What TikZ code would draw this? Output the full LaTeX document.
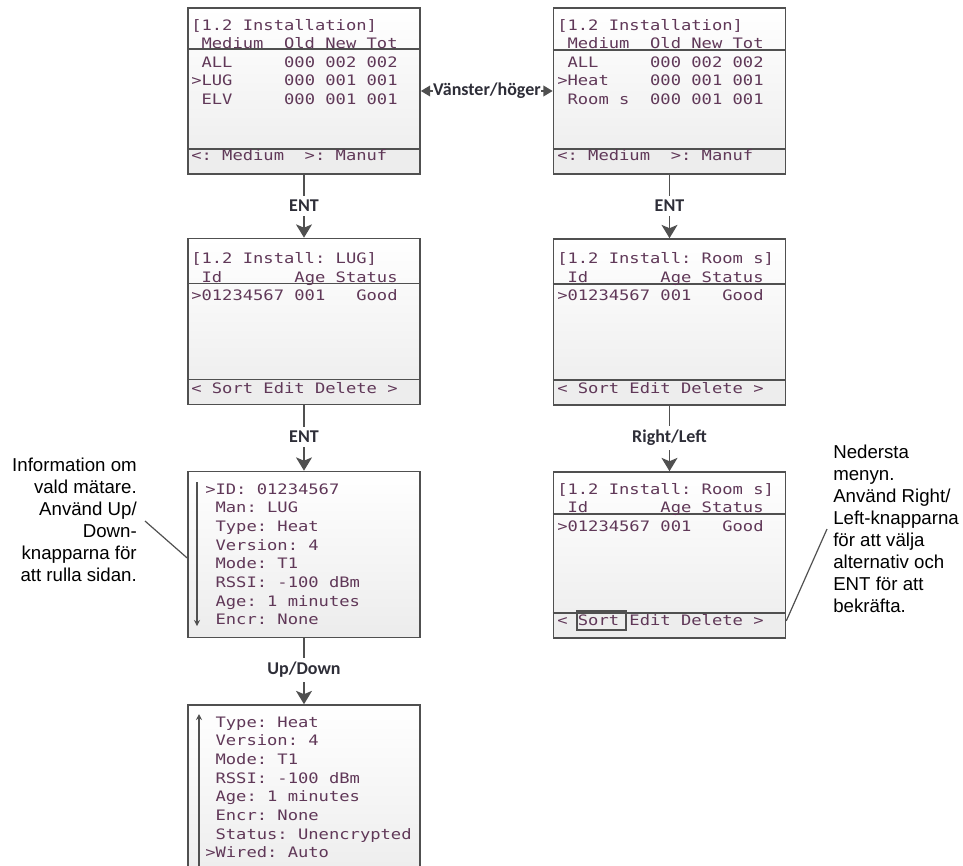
\documentclass[tikz,border=0pt]{standalone}
\usepackage{fontspec}
\setmainfont{Liberation Sans}
\newfontfamily\lcdfont[FakeStretch=1.19]{DejaVu Sans Mono}
\newfontfamily\lblfont{Carlito}
\usetikzlibrary{arrows.meta,calc}
\definecolor{framec}{HTML}{505050}
\definecolor{lcdc}{HTML}{603858}
\definecolor{lblc}{HTML}{2E2E38}
\definecolor{boxbot}{HTML}{ECECEC}
\definecolor{footc}{HTML}{EDEDED}
\tikzset{
  screen/.style={draw=framec, line width=1.2pt, rectangle, inner sep=0pt, minimum width=174pt, minimum height=124.5pt, top color=white, bottom color=boxbot},
  sepline/.style={draw=framec, line width=1.1pt},
  lcd/.style={anchor=base west, inner sep=0pt, font=\lcdfont\fontsize{10.8pt}{13pt}\selectfont, text=lcdc},
  lab/.style={font=\lblfont\bfseries\fontsize{13.5pt}{16pt}\selectfont, text=lblc, inner sep=3pt},
  conn/.style={draw=framec, line width=1.2pt},
  arr/.style={conn, -{Stealth[width=12pt,length=10pt,inset=2.5pt]}},
  harr/.style={conn, -{Triangle[width=8pt,length=7pt]}},
  scrollarr/.style={draw=framec, line width=0.8pt, -{Stealth[width=4.5pt,length=4.5pt]}},
  callout/.style={draw=framec, line width=0.9pt},
  note/.style={font=\fontsize{14pt}{16.5pt}\selectfont, inner sep=0pt, text=black},
}
\begin{document}
\begin{tikzpicture}[x=0.75pt,y=-0.75pt]
\useasboundingbox (0,0) rectangle (963,865);

% ---------- screens ----------
\node[screen] (b1) at (304,91) {};
\node[screen] (b2) at (669.5,91) {};
\node[screen] (b3) at (304,321.5) {};
\node[screen] (b4) at (669.5,322) {};
\node[screen] (b5) at (304,554.5) {};
\node[screen] (b6) at (669.5,555) {};
\node[screen, minimum height=135pt] (b7) at (304,795) {};

% footers
\foreach \b in {b1,b2,b3,b4,b6}{
  \fill[footc] ($(\b.south west)+(1.5,-26)$) rectangle ($(\b.south east)+(-1.5,-1.5)$);
  \draw[sepline] ($(\b.south west)+(0,-26)$) -- ($(\b.south east)+(0,-26)$);
}
% header separators
\draw[sepline] ($(b1.north west)+(0,42)$) -- ($(b1.north east)+(0,42)$);
\draw[sepline] ($(b2.north west)+(0,43)$) -- ($(b2.north east)+(0,43)$);
\draw[sepline] ($(b3.north west)+(0,46)$) -- ($(b3.north east)+(0,46)$);
\draw[sepline] ($(b4.north west)+(0,46)$) -- ($(b4.north east)+(0,46)$);
\draw[sepline] ($(b6.north west)+(0,43)$) -- ($(b6.north east)+(0,43)$);

% ---------- screen texts ----------
\node[lcd] (b1t1) at (191,30)   {[1.2~Installation]};
\node[lcd] (b1t2) at (191,48.5) {~Medium~~Old~New~Tot};
\node[lcd] (b1t3) at (191,67)   {~ALL~~~~~000~002~002};
\node[lcd] (b1t4) at (191,85.5) {>LUG~~~~~000~001~001};
\node[lcd] (b1t5) at (191,104)  {~ELV~~~~~000~001~001};
\node[lcd] (b1f)  at (191,160)  {<:~Medium~~>:~Manuf};

\node[lcd] (b2t1) at (557,30)   {[1.2~Installation]};
\node[lcd] (b2t2) at (557,48.5) {~Medium~~Old~New~Tot};
\node[lcd] (b2t3) at (557,67)   {~ALL~~~~~000~002~002};
\node[lcd] (b2t4) at (557,85.5) {>Heat~~~~000~001~001};
\node[lcd] (b2t5) at (557,104)  {~Room~s~~000~001~001};
\node[lcd] (b2f)  at (557,160)  {<:~Medium~~>:~Manuf};

\node[lcd] (b3t1) at (191,263) {[1.2~Install:~LUG]};
\node[lcd] (b3t2) at (191,282) {~Id~~~~~~~Age~Status};
\node[lcd] (b3t3) at (191,300) {>01234567~001~~~Good};
\node[lcd] (b3f)  at (191,393) {<~Sort~Edit~Delete~>};

\node[lcd] (b4t1) at (557,263) {[1.2~Install:~Room~s]};
\node[lcd] (b4t2) at (557,282) {~Id~~~~~~~Age~Status};
\node[lcd] (b4t3) at (557,300) {>01234567~001~~~Good};
\node[lcd] (b4f)  at (557,393) {<~Sort~Edit~Delete~>};

\node[lcd] (b6t1) at (557,494)   {[1.2~Install:~Room~s]};
\node[lcd] (b6t2) at (557,512.5) {~Id~~~~~~~Age~Status};
\node[lcd] (b6t3) at (557,531)   {>01234567~001~~~Good};
\node[lcd] (b6f)  at (557,625)   {<~Sort~Edit~Delete~>};
\draw[framec, line width=1pt] (577,611) rectangle (626,630);

\foreach \txt [count=\i] in {{>ID:~01234567},{~Man:~LUG},{~Type:~Heat},{~Version:~4},{~Mode:~T1},{~RSSI:~-100~dBm},{~Age:~1~minutes},{~Encr:~None}}{
  \node[lcd] (b5t\i) at (205,{494+18.7*(\i-1)}) {\txt};
}
\foreach \txt [count=\i] in {{~Type:~Heat},{~Version:~4},{~Mode:~T1},{~RSSI:~-100~dBm},{~Age:~1~minutes},{~Encr:~None},{~Status:~Unencrypted},{>Wired:~Auto}}{
  \node[lcd] (b7t\i) at (205,{727+18.7*(\i-1)}) {\txt};
}

% scroll arrows
\coordinate (s5a) at (197,482);
\coordinate (s5b) at (197,626);
\draw[scrollarr] (s5a) -- (s5b);
\coordinate (s7a) at (199,880);
\coordinate (s7b) at (199,714);
\draw[scrollarr] (s7a) -- (s7b);

% ---------- connectors ----------
\node[lab] (ent1) at (304,206) {ENT};
\draw[conn] (b1.south) -- (ent1.north);
\draw[arr] (ent1.south) -- (b3.north);

\node[lab] (ent2) at (669.5,206) {ENT};
\draw[conn] (b2.south) -- (ent2.north);
\draw[arr] (ent2.south) -- (b4.north);

\node[lab] (ent3) at (304,437) {ENT};
\draw[conn] (b3.south) -- (ent3.north);
\draw[arr] (ent3.south) -- (b5.north);

\node[lab] (rl) at (669.5,438) {Right/Left};
\draw[conn] (b4.south) -- (rl.north);
\draw[arr] (rl.south) -- (b6.north);

\node[lab] (ud) at (304,670) {Up/Down};
\draw[conn] (b5.south) -- (ud.north);
\draw[arr] (ud.south) -- (b7.north);

\node[lab, inner sep=0pt] (vh) at (487,91) {Vänster/höger};
\draw[harr] (vh.west) -- (b1.east);
\draw[harr] (vh.east) -- (b2.west);

% ---------- annotations ----------
\node[note, anchor=north east, align=right] (n1) at (137,457.5)
  {Information om\\vald mätare.\\Använd Up/\\Down-\\knapparna för\\att rulla sidan.};
\node[note, anchor=north west, align=left] (n2) at (833,445)
  {Nedersta\\menyn.\\Använd Right/\\Left-knapparna\\för att välja\\alternativ och\\ENT för att\\bekräfta.};

\coordinate (c1) at (145,521);
\draw[callout] (c1) -- ($(b5.west)+(0,3.5)$);
\coordinate (c2) at (827,529);
\draw[callout] (c2) -- ($(b6.south east)+(0,-18)$);
\end{tikzpicture}
\end{document}
